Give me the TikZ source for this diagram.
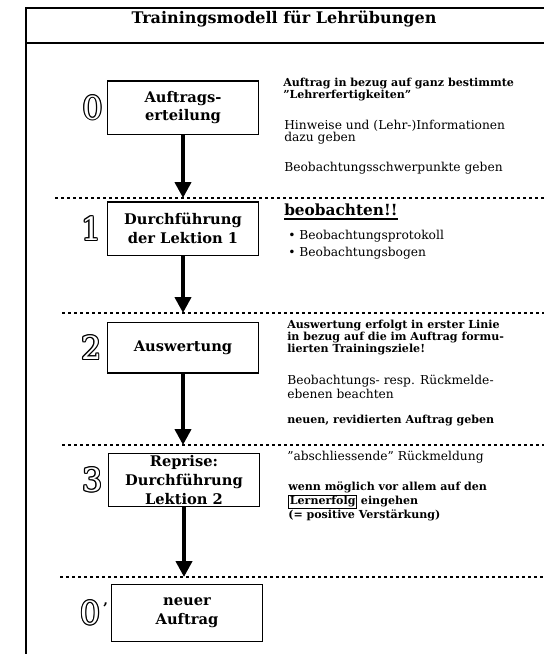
\documentclass[tikz,border=0pt]{standalone}
\usepackage{fontspec}
\setmainfont{DejaVu Serif}
\usepackage{xcolor}
\usetikzlibrary{arrows.meta,positioning}

% hohle Ziffer: schwarz versetzt, weiss darueber
\newcommand\hohl[1]{\leavevmode
  \rlap{\kern-.85pt#1}\rlap{\kern.85pt#1}%
  \rlap{\raisebox{.85pt}{#1}}\rlap{\raisebox{-.85pt}{#1}}%
  \rlap{\kern-.6pt\raisebox{.6pt}{#1}}\rlap{\kern.6pt\raisebox{.6pt}{#1}}%
  \rlap{\kern-.6pt\raisebox{-.6pt}{#1}}\rlap{\kern.6pt\raisebox{-.6pt}{#1}}%
  \textcolor{white}{#1}}
\setlength\fboxsep{0.6pt}
\setlength\fboxrule{0.6pt}

\begin{document}
\begin{tikzpicture}[
  x=0.75pt, y=-0.75pt,
  every node/.style={font=\small},
  schritt/.style={draw, line width=1pt, minimum width=113pt, minimum height=40pt, align=center, inner sep=0pt, font=\fontsize{11}{14}\selectfont\bfseries},
  nummer/.style={inner sep=0pt, font=\fontsize{24}{24}\selectfont},
  notiz/.style={anchor=north west, align=left, inner sep=0pt, font=\fontsize{9.2}{8.8}\selectfont},
  fett/.style={notiz, font=\fontsize{8.3}{9}\selectfont\bfseries},
  pfeil/.style={line width=3pt, -{Triangle[length=12pt,width=12pt]}},
  trenner/.style={line width=0.8pt, dash pattern=on 2.5pt off 2pt}
]
\useasboundingbox (0,0) rectangle (544,654);

% Rahmen und Titel
\draw[line width=1.2pt] (26,654) -- (26,8) -- (544,8);
\node[font=\fontsize{12}{14}\selectfont\bfseries] (titel) at (284,19) {Trainingsmodell für Lehrübungen};
\draw[line width=1.5pt] (26,43) -- (544,43);

% Trennlinien
\coordinate (rand) at (544,0);
\coordinate (t1) at (55,198);
\coordinate (t2) at (62,313);
\coordinate (t3) at (62,445);
\coordinate (t4) at (60,577);
\foreach \t in {t1,t2,t3,t4}
  \draw[trenner] (\t) -- (\t -| rand);

% Schritte
\node[schritt] (s0) at (183,107.5) {Auftrags-\\erteilung};
\node[schritt] (s1) at (183,228.5) {Durchführung\\der Lektion 1};
\node[schritt, minimum height=38pt] (s2) at (183,347.5) {Auswertung};
\node[schritt] (s3) at (184,480) {Reprise:\\Durchführung\\Lektion 2};
\node[schritt, minimum height=43pt] (s4) at (187,613) {neuer\\Auftrag};

\node[nummer, left=3pt of s0] (n0) {\hohl{0}};
\node[nummer, left=4pt of s1] (n1) {\hohl{1}};
\node[nummer, left=4pt of s2] (n2) {\hohl{2}};
\node[nummer, left=4pt of s3] (n3) {\hohl{3}};
\node[nummer, left=2pt of s4] (n4) {\hohl{0}\kern2pt\raisebox{8pt}{\fontsize{11}{11}\selectfont\bfseries ’}};

\foreach \a/\b in {s0/t1, s1/t2, s2/t3, s3/t4}
  \draw[pfeil] (\a) -- (\a |- \b);

% Hinweise rechts
\node[fett] (h0) at (283,78) {Auftrag in bezug auf ganz bestimmte\\"Lehrerfertigkeiten"};
\node[notiz] (h1) at (284,120) {Hinweise und (Lehr-)Informationen\\dazu geben};
\node[notiz] (h2) at (284,162) {Beobachtungsschwerpunkte geben};

\node[notiz, font=\fontsize{11.5}{12}\selectfont\bfseries] (b0) at (284,204) {beobachten!!};
\draw[line width=1.5pt] ([yshift=-2pt]b0.south west) -- ([yshift=-2pt]b0.south east);
\node[notiz] (b1) at (288,230) {• Beobachtungsprotokoll\\[3pt]• Beobachtungsbogen};

\node[fett] (c0) at (287,320) {Auswertung erfolgt in erster Linie\\in bezug auf die im Auftrag formu-\\lierten Trainingsziele!};
\node[notiz] (c1) at (287,375) {Beobachtungs- resp. Rückmelde-\\ebenen beachten};
\node[fett] (c2) at (287,415) {neuen, revidierten Auftrag geben};

\node[notiz] (d0) at (287,451) {"abschliessende" Rückmeldung};
\node[fett] (d1) at (288,482) {wenn möglich vor allem auf den\\\fbox{Lernerfolg} eingehen\\(= positive Verstärkung)};
\end{tikzpicture}
\end{document}
